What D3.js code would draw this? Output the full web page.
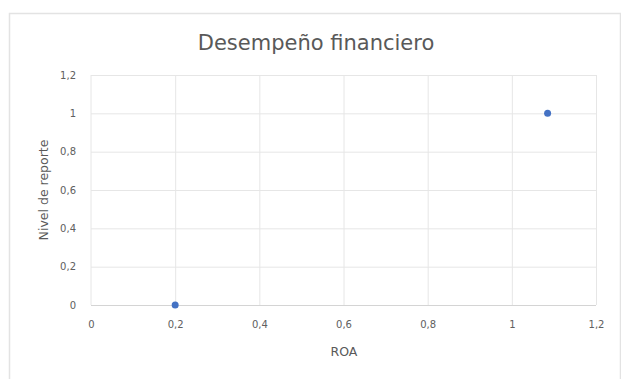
<!DOCTYPE html>
<html><head><meta charset="utf-8">
<script src="https://cdn.jsdelivr.net/npm/d3@7"></script>
<style>body{margin:0;background:#fff}svg{display:block}</style>
</head><body>
<script>
const title = "Desempeño financiero";
const xLabel = "ROA";
const yLabel = "Nivel de reporte";
const xValues = [0.2, 1.085];
const yValues = [0, 1];
const xTicks = [0, 0.2, 0.4, 0.6, 0.8, 1, 1.2];
const yTicks = [0, 0.2, 0.4, 0.6, 0.8, 1, 1.2];

const W = 621, H = 379;
const svg = d3.select("body").append("svg").attr("width", W).attr("height", H);
svg.append("rect").attr("x", 9.5).attr("y", 13.5).attr("width", 611).attr("height", 380)
  .attr("fill", "#fff").attr("stroke", "#e3e3e3").attr("stroke-width", 1.5);

const x = d3.scaleLinear().domain([0, 1.2]).range([91, 596]);
const y = d3.scaleLinear().domain([0, 1.2]).range([305, 75]);
const fmt = d => String(d).replace(".", ",");
const font = "DejaVu Sans, sans-serif";

const gx = svg.append("g").attr("transform", "translate(0,305)")
  .call(d3.axisBottom(x).tickValues(xTicks).tickFormat(fmt).tickSize(-230).tickPadding(16));
const gy = svg.append("g").attr("transform", "translate(91,0)")
  .call(d3.axisLeft(y).tickValues(yTicks).tickFormat(fmt).tickSize(-505).tickPadding(15));
[gx, gy].forEach(g => {
  g.select(".domain").remove();
  g.selectAll(".tick line").attr("stroke", "#e6e6e6").attr("stroke-width", 1);
  g.selectAll(".tick text").attr("fill", "#606060").attr("font-size", 10).attr("font-family", font);
});
gx.selectAll(".tick line").filter(d => d === 0).remove();
gy.selectAll(".tick line").filter(d => d === 0).attr("stroke", "#d4d4d4");
svg.append("line").attr("x1", 91).attr("x2", 91).attr("y1", 75).attr("y2", 305).attr("stroke", "#e6e6e6");

svg.append("text").attr("x", 316).attr("y", 50).attr("text-anchor", "middle")
  .attr("font-family", font).attr("font-size", 21).attr("fill", "#595959").text(title);
svg.append("text").attr("x", 344).attr("y", 356).attr("text-anchor", "middle")
  .attr("font-family", font).attr("font-size", 12.5).attr("fill", "#595959").text(xLabel);
svg.append("text").attr("transform", "translate(48,190) rotate(-90)").attr("text-anchor", "middle")
  .attr("font-family", font).attr("font-size", 12.5).attr("fill", "#595959").text(yLabel);

svg.append("g").selectAll("circle").data(xValues).join("circle")
  .attr("cx", d => x(d)).attr("cy", (d, i) => y(yValues[i])).attr("r", 3.5)
  .attr("fill", "#4472C4");
</script>
</body></html>
